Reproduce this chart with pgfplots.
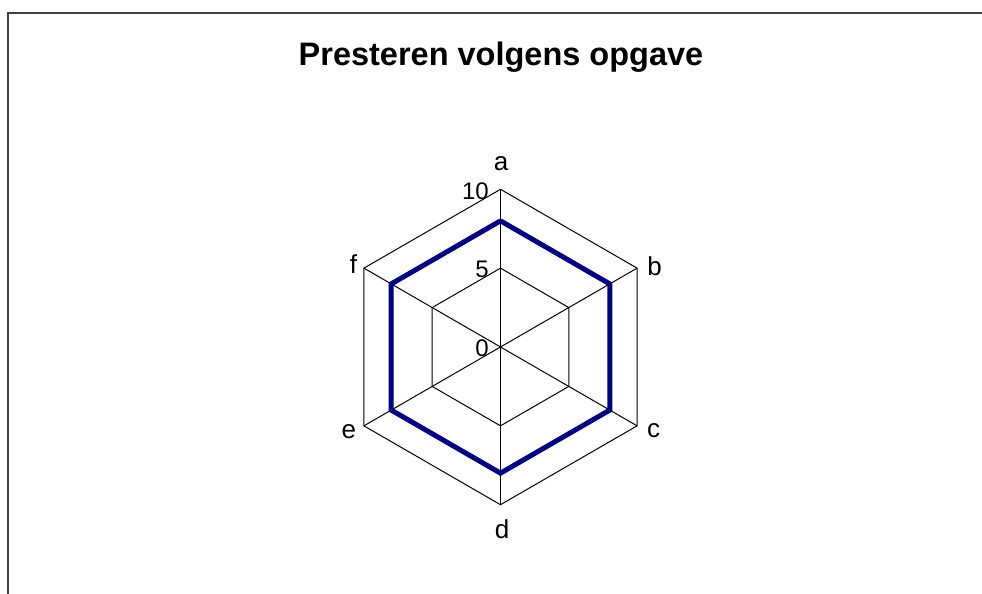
\documentclass[border=0pt]{standalone}
\usepackage{pgfplots}
\pgfplotsset{compat=1.18}
\usepgfplotslibrary{polar}
\usepackage{fontspec}
\setmainfont{Liberation Sans}
\definecolor{seriesblue}{HTML}{000080}
\definecolor{framegray}{HTML}{404040}

\begin{document}
\begin{tikzpicture}[x=1pt,y=1pt]
\path[use as bounding box] (0,0) rectangle (982,594);
% chart frame (left and top edges)
\draw[framegray, line width=1.8pt] (8,0) -- (8,581) -- (983,581);
% title
\node[anchor=base, font=\bfseries\fontsize{32.5}{39}\selectfont] at (501,528) {Presteren volgens opgave};

\begin{polaraxis}[
  at={(500.5pt,247pt)}, anchor=center,
  scale only axis, width=315.4pt, height=315.4pt,
  xmin=0, xmax=360, ymin=0, ymax=10,
  hide axis,
  clip=false,
  every axis plot/.append style={line join=miter},
]
% spokes
\addplot[black, line width=1pt, forget plot] coordinates {(90,0) (90,10)};
\addplot[black, line width=1pt, forget plot] coordinates {(30,0) (30,10)};
\addplot[black, line width=1pt, forget plot] coordinates {(-30,0) (-30,10)};
\addplot[black, line width=1pt, forget plot] coordinates {(-90,0) (-90,10)};
\addplot[black, line width=1pt, forget plot] coordinates {(-150,0) (-150,10)};
\addplot[black, line width=1pt, forget plot] coordinates {(150,0) (150,10)};
% hexagonal grid at 5 and 10
\addplot[black, line width=1pt, forget plot] coordinates {(90,5) (30,5) (-30,5) (-90,5) (-150,5) (150,5) (90,5)};
\addplot[black, line width=1pt, forget plot] coordinates {(90,10) (30,10) (-30,10) (-90,10) (-150,10) (150,10) (90,10)};
% series
\addplot[seriesblue, line width=5pt] coordinates {(90,8) (30,8) (-30,8) (-90,8) (-150,8) (150,8) (90,8)};

% value labels
\begin{scope}[every node/.style={font=\fontsize{24}{28}\selectfont, inner sep=0pt, anchor=base east}]
\node[xshift=-11.5pt, yshift=-10pt] at (axis cs:90,10) {10};
\node[xshift=-11.5pt, yshift=-9pt] at (axis cs:90,5) {5};
\node[xshift=-11.5pt, yshift=-10pt] at (axis cs:90,0) {0};
\end{scope}
% category labels
\begin{scope}[every node/.style={font=\fontsize{26}{30}\selectfont, inner sep=0pt, anchor=base}]
\node[xshift=0.5pt, yshift=19pt] at (axis cs:90,10) {a};
\node[xshift=17.5pt, yshift=-7pt] at (axis cs:30,10) {b};
\node[xshift=16.5pt, yshift=-12pt] at (axis cs:-30,10) {c};
\node[xshift=1.5pt, yshift=-34pt] at (axis cs:-90,10) {d};
\node[xshift=-15pt, yshift=-13pt] at (axis cs:-150,10) {e};
\node[xshift=-10.5pt, yshift=-5pt] at (axis cs:150,10) {f};
\end{scope}
\end{polaraxis}
\end{tikzpicture}
\end{document}
